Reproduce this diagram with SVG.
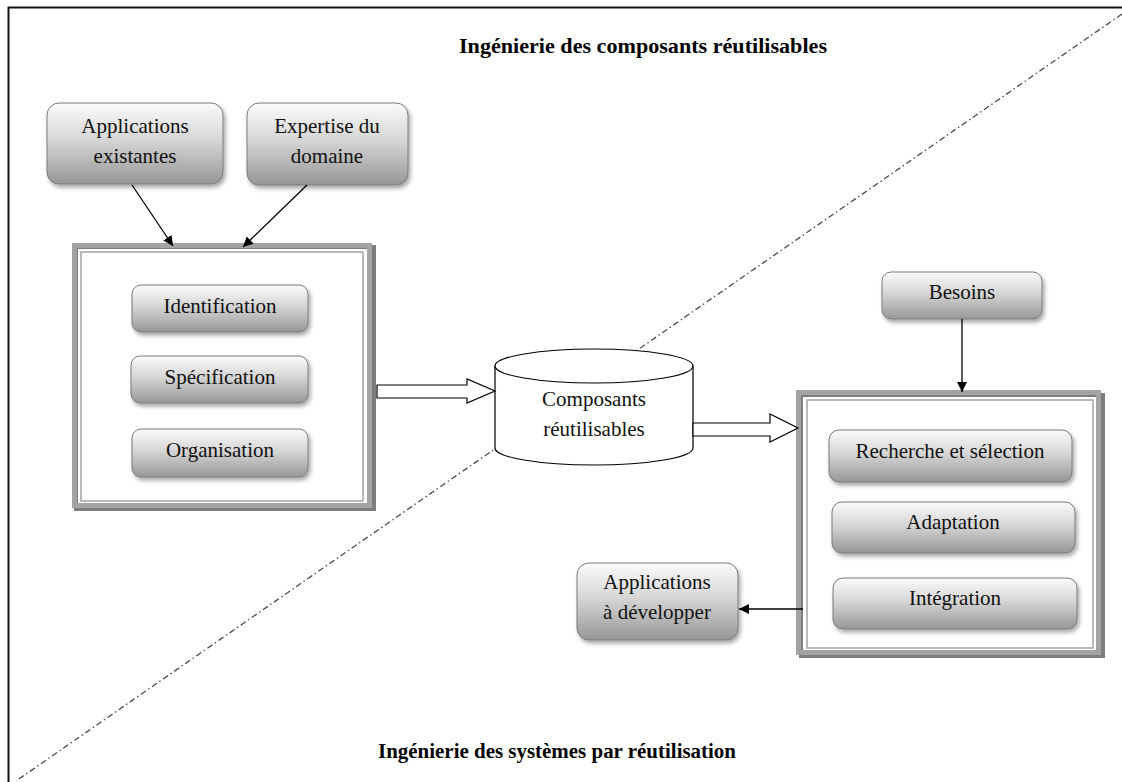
<svg xmlns="http://www.w3.org/2000/svg" width="1122" height="782" viewBox="0 0 1122 782">
<style>
text{font-family:'Liberation Serif','Times New Roman','DejaVu Serif',serif}
.t{font-family:'Liberation Serif','Times New Roman','DejaVu Serif',serif;font-size:21px;font-weight:normal;fill:#111;text-anchor:middle}
.title{font-family:'Liberation Serif','Times New Roman','DejaVu Serif',serif;font-size:21px;font-weight:bold;fill:#000;text-anchor:middle}
.node{fill:url(#g);stroke:#7a7a7a;stroke-width:1;filter:url(#sh)}
.band{fill:none;stroke:#a3a3a3;stroke-width:5}
.shadowband{fill:none;stroke:#7d7d7d;stroke-width:4}
.thin{fill:none;stroke:#a3a3a3;stroke-width:1.5}
.conn{fill:none;stroke:#000;stroke-width:1.3}
.block{fill:#fff;stroke:#000;stroke-width:1.2}
</style>
<defs>
<linearGradient id="g" x1="0" y1="0" x2="0" y2="1">
<stop offset="0" stop-color="#fbfbfb"/>
<stop offset="0.45" stop-color="#d6d6d6"/>
<stop offset="1" stop-color="#979797"/>
</linearGradient>
<filter id="sh" x="-10%" y="-10%" width="125%" height="135%">
<feDropShadow dx="2" dy="3" stdDeviation="2" flood-color="#000" flood-opacity="0.35"/>
</filter>
<marker id="ah" viewBox="0 0 10 10" refX="10" refY="5" markerWidth="10" markerHeight="10" markerUnits="userSpaceOnUse" orient="auto">
<path d="M0,0 L10,5 L0,10 z" fill="#000"/>
</marker>
</defs>
<rect width="1122" height="782" fill="#fff"/>
<g id="frame">
<path d="M8.5,782 L8.5,7.5 L1122,7.5" fill="none" stroke="#111" stroke-width="2"/>
</g>
<g id="separator">
<line x1="1122" y1="14" x2="16" y2="781" stroke="#4a4a4a" stroke-width="1.3" stroke-dasharray="6 3 1.5 3"/>
</g>
<g id="titles">
<text class="title" x="643" y="53" textLength="368" lengthAdjust="spacingAndGlyphs">Ingénierie des composants réutilisables</text>
<text class="title" x="557" y="758" textLength="358" lengthAdjust="spacingAndGlyphs">Ingénierie des systèmes par réutilisation</text>
</g>
<g id="applications-existantes">
<rect class="node" x="47" y="103" width="176" height="81" rx="12"/>
<text class="t" x="135" y="133">Applications</text>
<text class="t" x="135" y="163">existantes</text>
</g>
<g id="expertise-domaine">
<rect class="node" x="247" y="103" width="161" height="82" rx="12"/>
<text class="t" x="327" y="133">Expertise du</text>
<text class="t" x="327" y="163">domaine</text>
</g>
<g id="left-container">
<rect class="shadowband" x="76" y="247" width="298" height="262"/>
<rect class="band" x="74.5" y="245.5" width="295" height="260"/>
<rect class="thin" x="81" y="252" width="282" height="249"/>
</g>
<g id="identification">
<rect class="node" x="132" y="285" width="176" height="47" rx="9"/>
<text class="t" x="220" y="313">Identification</text>
</g>
<g id="specification">
<rect class="node" x="131" y="356" width="177" height="47" rx="9"/>
<text class="t" x="220" y="384">Spécification</text>
</g>
<g id="organisation">
<rect class="node" x="132" y="429" width="176" height="48" rx="9"/>
<text class="t" x="220" y="457">Organisation</text>
</g>
<g id="composants">
<path d="M495,366 L495,448 A99,17 0 0 0 693,448 L693,366" fill="#fff" stroke="#000" stroke-width="1.2"/>
<ellipse cx="594" cy="366" rx="99" ry="17" fill="#fff" stroke="#000" stroke-width="1.2"/>
<text class="t" x="594" y="406">Composants</text>
<text class="t" x="594" y="436">réutilisables</text>
</g>
<g id="besoins">
<rect class="node" x="882" y="272" width="160" height="47" rx="9"/>
<text class="t" x="962" y="299">Besoins</text>
</g>
<g id="right-container">
<rect class="shadowband" x="801" y="395" width="302" height="261"/>
<rect class="band" x="798.5" y="392.5" width="300" height="260"/>
<rect class="thin" x="807" y="400" width="286" height="248"/>
</g>
<g id="recherche">
<rect class="node" x="829" y="430" width="243" height="52" rx="10"/>
<text class="t" x="950" y="458">Recherche et sélection</text>
</g>
<g id="adaptation">
<rect class="node" x="832" y="502" width="243" height="51" rx="10"/>
<text class="t" x="953" y="529">Adaptation</text>
</g>
<g id="integration">
<rect class="node" x="833" y="578" width="244" height="51" rx="10"/>
<text class="t" x="955" y="605">Intégration</text>
</g>
<g id="applications-developper">
<rect class="node" x="577" y="563" width="161" height="77" rx="12"/>
<text class="t" x="657" y="589">Applications</text>
<text class="t" x="657" y="619">à développer</text>
</g>
<g id="connectors">
<line class="conn" x1="132" y1="185" x2="173" y2="246" marker-end="url(#ah)"/>
<line class="conn" x1="307" y1="185" x2="243" y2="247" marker-end="url(#ah)"/>
<line class="conn" x1="962" y1="319" x2="962" y2="392" marker-end="url(#ah)"/>
<line class="conn" x1="803" y1="609" x2="739" y2="609" marker-end="url(#ah)"/>
<path class="block" d="M377,385 L467,385 L467,379 L495,391 L467,403 L467,398 L377,398 Z"/>
<path class="block" d="M693,423 L770,423 L770,414 L798,428 L770,442 L770,436 L693,436 Z"/>
</g>
</svg>
